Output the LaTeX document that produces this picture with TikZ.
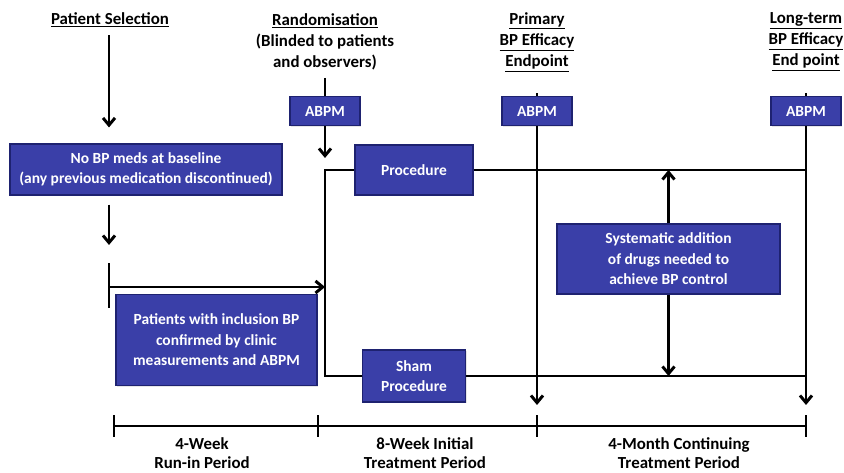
\documentclass[tikz,border=0pt]{standalone}
\usepackage{fontspec}
\setmainfont{Carlito}
\usetikzlibrary{arrows.meta,positioning,shadows}
\definecolor{bleuboite}{HTML}{3A3FA8}
\definecolor{bordboite}{HTML}{1E2270}

\begin{document}
\begin{tikzpicture}[
    x=0.025cm, y=-0.025cm,
    titre/.style={align=center, inner sep=1pt,
      font=\fontsize{12}{15}\selectfont\bfseries},
    periode/.style={align=center, inner sep=1pt,
      font=\fontsize{12}{14}\selectfont\bfseries},
    boite/.style={rectangle, draw=bordboite, line width=0.8pt, fill=bleuboite,
      text=white, align=center, inner sep=2pt,
      font=\fontsize{11}{14.5}\selectfont\bfseries,
      drop shadow={opacity=0.2, shadow xshift=1pt, shadow yshift=-1pt}},
    abpm/.style={boite, minimum width=1.75cm, minimum height=0.725cm},
    lien/.style={-, draw=black, line width=2.1pt},
    fleche/.style={lien, -{Straight Barb[length=1.8mm, width=3mm]}}
  ]
    \useasboundingbox (0,0) rectangle (844,473);

    \node[titre] (selT) at (110,20) {\underline{Patient Selection}};
    \node[titre] (randT) at (325,42) {\underline{Randomisation}\\(Blinded to patients\\and observers)};
    \node[titre] (primT) at (537,42) {\underline{Primary}\\\underline{BP Efficacy}\\\underline{Endpoint}};
    \node[titre] (longT) at (806,42) {\underline{Long-term}\\\underline{BP Efficacy}\\\underline{End point}};

    \node[abpm] (abpmR) at (325,111) {ABPM};
    \node[abpm] (abpmP) at (537,111) {ABPM};
    \node[abpm] (abpmL) at (806,111) {ABPM};

    \node[boite, minimum width=6.8cm, minimum height=1.275cm] (nobp) at (146,169.5)
      {No BP meds at baseline\\(any previous medication discontinued)};
    \node[boite, minimum width=5.025cm, minimum height=2.275cm] (incl) at (216.5,340)
      {Patients with inclusion BP\\confirmed by clinic\\measurements and ABPM};
    \node[boite, minimum width=2.95cm, minimum height=1.25cm] (proc) at (414,170) {Procedure};
    \node[boite, minimum width=2.575cm, minimum height=1.3cm] (sham) at (414,376) {Sham\\Procedure};
    \node[boite, minimum width=5.575cm, minimum height=1.75cm] (syst) at (668.5,259)
      {Systematic addition\\of drugs needed to\\achieve BP control};

    \coordinate (debut) at (109,287);
    \coordinate (bascule) at (325,287);
    \coordinate (t0) at (114,426);
    \coordinate (t1) at (318,426);
    \coordinate (t2) at (537,426);
    \coordinate (t3) at (806,426);

    \node[periode] (run) at (202,453) {4-Week\\Run-in Period};
    \node[periode] (init) at (425,453) {8-Week Initial\\Treatment Period};
    \node[periode] (cont) at (679,453) {4-Month Continuing\\Treatment Period};

    \draw[fleche, shorten <=0.15cm, shorten >=0.4cm] (selT.south -| debut) -- (nobp.north -| debut);
    \draw[fleche, shorten <=0.225cm, shorten >=1.05cm] (nobp.south -| debut) -- (debut);
    \draw[lien] (debut) ++(0,-24) -- ++(0,45);
    \draw[fleche] (debut) -- (bascule);

    \draw[lien, shorten <=0.15cm] (randT.south) -- (abpmR.north);
    \draw[lien, shorten <=0.5cm] (primT.south) -- (abpmP.north);
    \draw[lien, shorten <=0.5cm] (longT.south) -- (abpmL.north);
    \draw[fleche, shorten >=0.3cm] (abpmR.south) -- (abpmR.south |- proc.west);

    \draw[lien] (proc.west) -- (proc.west -| bascule) -- (sham.west -| bascule) -- (sham.west);
    \draw[lien] (proc.east) -- (proc.east -| t3);
    \draw[lien] (sham.east) -- (sham.east -| t3);

    \draw[fleche, shorten >=0.525cm] (abpmP.south) -- (t2);
    \draw[fleche, shorten >=0.525cm] (abpmL.south) -- (t3);

    \draw[fleche] (syst.north) -- (syst.north |- proc.east);
    \draw[fleche] (syst.south) -- (syst.south |- sham.east);

    \draw[lien] (t0) -- (t3);
    \foreach \t in {t0,t1,t2,t3} \draw[lien] (\t) ++(0,-11) -- ++(0,22);
  \end{tikzpicture}
\end{document}
